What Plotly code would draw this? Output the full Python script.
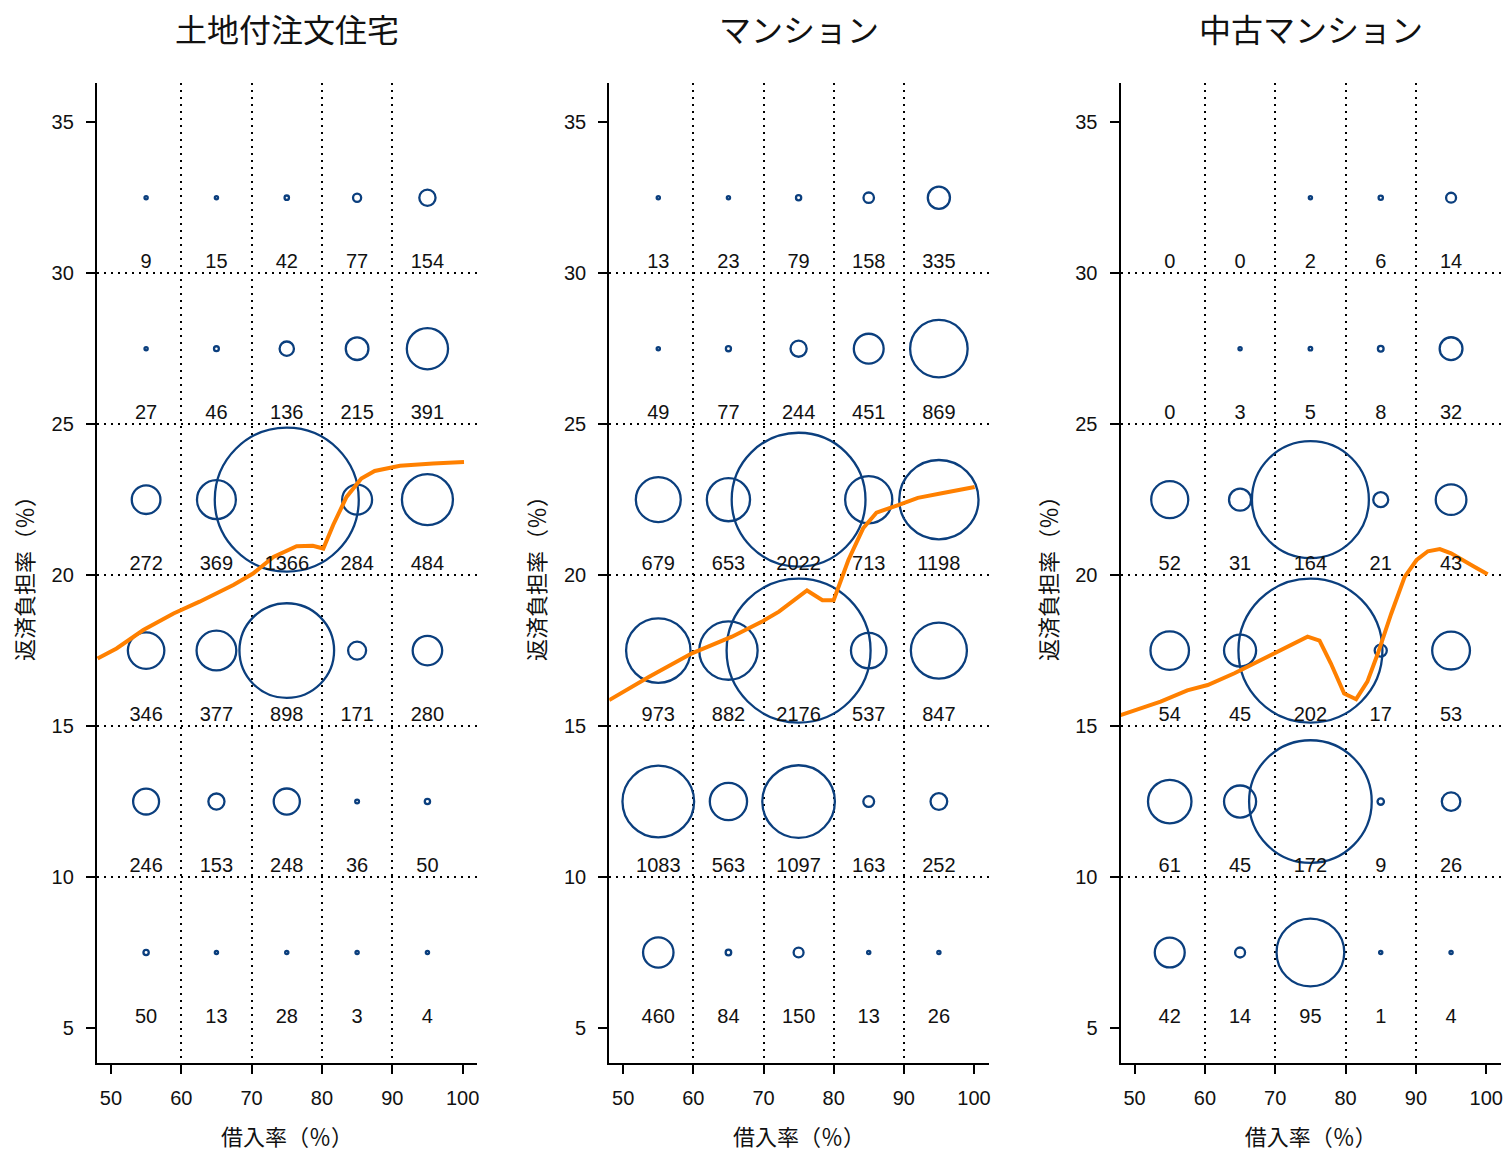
import plotly.graph_objects as go

# Panel titles
titles = ["土地付注文住宅", "マンション", "中古マンション"]

# Bin centres: loan ratio (x) and repayment burden ratio (y)
loan_ratio = [55, 65, 75, 85, 95]
burden_rows = [32.5, 27.5, 22.5, 17.5, 12.5, 7.5]
bin_half = 2.5

# Counts per cell, rows from top (32.5) to bottom (7.5), columns 55..95
counts_house = [
    [9, 15, 42, 77, 154],
    [27, 46, 136, 215, 391],
    [272, 369, 1366, 284, 484],
    [346, 377, 898, 171, 280],
    [246, 153, 248, 36, 50],
    [50, 13, 28, 3, 4],
]
counts_condo = [
    [13, 23, 79, 158, 335],
    [49, 77, 244, 451, 869],
    [679, 653, 2022, 713, 1198],
    [973, 882, 2176, 537, 847],
    [1083, 563, 1097, 163, 252],
    [460, 84, 150, 13, 26],
]
counts_used = [
    [0, 0, 2, 6, 14],
    [0, 3, 5, 8, 32],
    [52, 31, 164, 21, 43],
    [54, 45, 202, 17, 53],
    [61, 45, 172, 9, 26],
    [42, 14, 95, 1, 4],
]

# Smoothed mean burden ratio by loan ratio
curve_house_x = [48.1, 50.8, 54.6, 58.9, 62.6, 67.4, 70.2, 73.1, 76.4, 78.7, 80.2,
                 81.6, 83.5, 85.6, 87.5, 91.1, 95.8, 100.2]
curve_house_y = [17.24, 17.57, 18.18, 18.73, 19.12, 19.67, 20.05, 20.6, 20.96, 20.97,
                 20.88, 21.66, 22.59, 23.2, 23.45, 23.62, 23.70, 23.75]
curve_condo_x = [48.0, 53.7, 59.8, 65.5, 69.8, 72.2, 76.2, 78.4, 80.0, 82.1, 84.2,
                 86.1, 89.2, 92.0, 95.4, 100.1]
curve_condo_y = [15.86, 16.63, 17.41, 17.96, 18.46, 18.79, 19.49, 19.17, 19.17, 20.50,
                 21.55, 22.07, 22.32, 22.56, 22.71, 22.92]
curve_used_x = [48.0, 53.7, 57.5, 60.4, 64.2, 69.9, 74.6, 76.3, 77.9, 79.8, 81.5,
                83.1, 84.6, 86.5, 88.4, 90.1, 91.7, 93.4, 95.0, 98.3, 100.2]
curve_used_y = [15.36, 15.81, 16.18, 16.36, 16.75, 17.41, 17.96, 17.83, 17.08, 16.08,
                15.89, 16.47, 17.41, 18.73, 19.94, 20.50, 20.79, 20.86, 20.72, 20.28,
                20.03]

x_ticks = [50, 60, 70, 80, 90, 100]
y_ticks = [5, 10, 15, 20, 25, 30, 35]
x_grid = [60, 70, 80, 90]
y_grid = [10, 15, 20, 25, 30]

panels = [
    (counts_house, curve_house_x, curve_house_y),
    (counts_condo, curve_condo_x, curve_condo_y),
    (counts_used, curve_used_x, curve_used_y),
]

W, H = 1506, 1153
x_domains = [(97, 478), (610, 990), (1122, 1503)]
y_domain = [1 - 1063 / H, 1 - 83 / H]

NAVY = "#0b3f7e"
ORANGE = "#ff8000"
FONT = "Liberation Sans, Arial, Noto Sans CJK JP, sans-serif"
JFONT = "Noto Sans CJK JP, sans-serif"
MAX_DIAM = 144

fig = go.Figure()

for i, (counts, cx, cy) in enumerate(panels):
    xa = "x" if i == 0 else f"x{i + 1}"
    ya = "y" if i == 0 else f"y{i + 1}"
    bx, by, bs, lx, ly, lt = [], [], [], [], [], []
    for r, yc in enumerate(burden_rows):
        for c, xc in enumerate(loan_ratio):
            n = counts[r][c]
            if n > 0:
                bx.append(xc)
                by.append(yc)
                bs.append(n)
            lx.append(xc)
            ly.append(yc - bin_half)
            lt.append(str(n))
    cmax = max(max(row) for row in counts)

    fig.add_trace(go.Scatter(
        x=bx, y=by, mode="markers", xaxis=xa, yaxis=ya, showlegend=False,
        marker=dict(size=bs, sizemode="diameter", sizeref=cmax / MAX_DIAM, sizemin=1.6,
                    opacity=1, color="rgba(0,0,0,0)",
                    line=dict(color=NAVY, width=2.3)),
        hoverinfo="skip",
    ))
    fig.add_trace(go.Scatter(
        x=cx, y=cy, mode="lines", xaxis=xa, yaxis=ya, showlegend=False,
        line=dict(color=ORANGE, width=4), hoverinfo="skip",
    ))
    fig.add_trace(go.Scatter(
        x=lx, y=ly, mode="text", text=lt, textposition="top center",
        xaxis=xa, yaxis=ya, showlegend=False,
        textfont=dict(family=FONT, size=20, color="#111111"), hoverinfo="skip",
    ))

    d = x_domains[i]
    axis_common = dict(
        showline=True, linecolor="black", linewidth=2,
        ticks="outside", ticklen=9, tickwidth=1.5, tickcolor="black",
        showgrid=False, zeroline=False,
        tickfont=dict(family=FONT, size=20, color="#111111"),
    )
    xkey = "xaxis" if i == 0 else f"xaxis{i + 1}"
    ykey = "yaxis" if i == 0 else f"yaxis{i + 1}"
    fig.update_layout(**{
        xkey: dict(
            axis_common, domain=[d[0] / W, d[1] / W], range=[48.0, 102.1],
            anchor=ya, tickmode="array", tickvals=x_ticks, ticklabelstandoff=7,
            minor=dict(tickmode="array", tickvals=x_grid, showgrid=True,
                       griddash="2px,5px", gridcolor="black", gridwidth=1.6, ticks=""),
            title=dict(text="借入率（％）", standoff=22,
                       font=dict(family=JFONT, size=22, color="#111111")),
        ),
        ykey: dict(
            axis_common, domain=y_domain, range=[3.84, 36.3],
            anchor=xa, tickmode="array", tickvals=y_ticks, ticklabelstandoff=8,
            minor=dict(tickmode="array", tickvals=y_grid, showgrid=True,
                       griddash="2px,5px", gridcolor="black", gridwidth=1.6, ticks=""),
            title=dict(text="返済負担率（％）", standoff=12,
                       font=dict(family=JFONT, size=22, color="#111111")),
        ),
    })
    fig.add_annotation(
        text=titles[i], xref="paper", yref="paper",
        x=(d[0] + d[1]) / 2 / W, y=1 - 28 / H, xanchor="center", yanchor="middle",
        showarrow=False, font=dict(family=JFONT, size=32, color="#111111"),
    )

fig.update_layout(
    width=W, height=H, margin=dict(l=0, r=0, t=0, b=0),
    plot_bgcolor="white", paper_bgcolor="white",
)

fig.write_html("out.html")
